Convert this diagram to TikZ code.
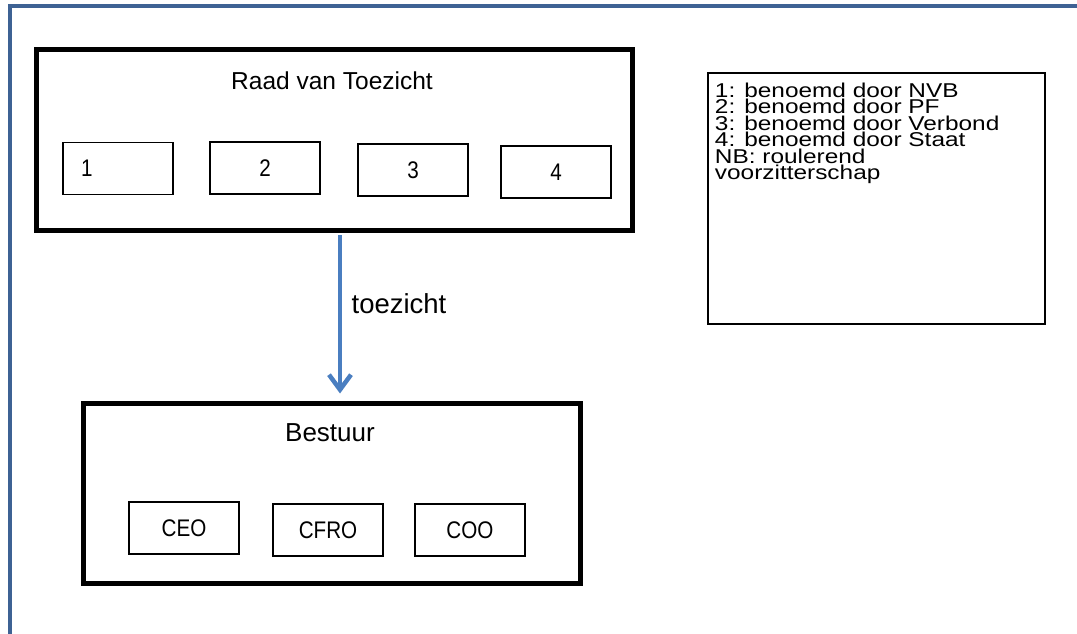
\documentclass[tikz,border=0pt]{standalone}
\usepackage{fontspec}
\setmainfont{Liberation Sans}
\newfontfamily\narrowfont[FakeStretch=0.86]{Liberation Sans}
\newfontfamily\legendfont[FakeStretch=1.22]{Liberation Sans}
\usetikzlibrary{arrows.meta}
\definecolor{frameblue}{RGB}{62,98,148}
\definecolor{arrowblue}{RGB}{74,126,192}
\newcommand\legendsetup{\legendfont\fontsize{20}{16.5}\selectfont\lineskiplimit=-30pt\relax}
\tikzset{
  bigbox/.style={draw=black, line width=5pt, minimum height=180pt, inner sep=0pt},
  smallbox/.style={draw=black, line width=1.3pt, minimum width=110pt, minimum height=52pt, inner sep=0pt,
    font=\narrowfont\fontsize{24}{28}\selectfont},
  legendbox/.style={draw=black, line width=1.5pt, minimum width=337pt, minimum height=251pt, inner sep=0pt},
  legendtext/.style={inner sep=0pt, align=left, anchor=north west, font=\legendsetup},
  title/.style={inner sep=0pt},
  flow/.style={draw=arrowblue, line width=4.5pt, -{Straight Barb[length=15pt,width=22pt]}}
}
\begin{document}
\begin{tikzpicture}[x=1pt,y=-1pt]
\useasboundingbox (0,0) rectangle (1077,634);
\begin{scope}
  \clip (0,0) rectangle (1077,634);
  \draw[frameblue, line width=4pt] (10,6.5) rectangle (1120,700);
\end{scope}

% Raad van Toezicht
\node[bigbox, minimum width=596pt] (raad) at (334,140) {};
\node[title, font=\fontsize{24.5}{29}\selectfont] (raadtitle) at (332,80.5) {Raad van Toezicht};
\node[smallbox, text width=74pt, align=left, inner xsep=18pt] (r1) at (118,168.5) {1};
\node[smallbox] (r2) at (265,168) {2};
\node[smallbox] (r3) at (413,170) {3};
\node[smallbox] (r4) at (556,172) {4};

% Bestuur
\node[bigbox, minimum width=497pt] (bestuur) at (331.5,493) {};
\node[title, font=\fontsize{26}{31}\selectfont] (bestuurtitle) at (330,433) {Bestuur};
\node[smallbox] (ceo) at (184,528) {CEO};
\node[smallbox] (cfro) at (328,530) {CFRO};
\node[smallbox] (coo) at (470,530) {COO};

% arrow
\coordinate (ax) at (340,0);
\draw[flow, shorten <=2.5pt, shorten >=7pt] (raad.south -| ax) -- (bestuur.north -| ax);
\node[title, font=\fontsize{27.5}{32}\selectfont] (toezicht) at (399,304) {toezicht};

% legend
\node[legendbox] (legend) at (876.5,198.5) {};
\node[legendtext] (legendlines) at ([shift={(7.5,10.5)}]legend.north west)
  {1: benoemd door NVB\\2: benoemd door PF\\3: benoemd door Verbond\\4: benoemd door Staat\\NB: roulerend\\voorzitterschap};
\end{tikzpicture}
\end{document}
